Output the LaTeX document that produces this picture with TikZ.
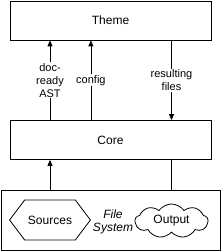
\documentclass[tikz,border=0pt]{standalone}
\usepackage{fontspec}
\setmainfont{Liberation Sans}
\usetikzlibrary{shapes.geometric, shapes.symbols, arrows.meta, positioning, calc}

\begin{document}
\begin{tikzpicture}[
    x=1pt, y=-1pt,
    block/.style={rectangle, draw, line width=0.8pt, minimum width=201pt, minimum height=39pt, font=\fontsize{12}{14}\selectfont},
    lbl/.style={fill=white, align=center, inner sep=1pt, font=\fontsize{11}{13}\selectfont},
    arrow/.style={-{Triangle[length=6pt,width=5pt]}, line width=0.8pt},
    line/.style={line width=0.8pt}
]
\useasboundingbox (0,0) rectangle (221,251);

\node[block] (theme) at (110.5,20.5) {Theme};
\node[block] (core) at (110.5,140) {Core};
\node[rectangle, draw, line width=0.8pt, minimum width=219pt, minimum height=60pt] (fs) at (110.5,220) {};

\node[signal, signal to=west and east, signal pointer angle=106, draw, line width=0.8pt, minimum width=80pt, minimum height=40pt, font=\fontsize{12}{14}\selectfont] (sources) at (50,220) {Sources};
\node[cloud, cloud puffs=9, cloud puff arc=110, aspect=2.4, draw, line width=0.8pt, minimum width=73pt, minimum height=34pt, inner sep=1pt, font=\fontsize{12}{14}\selectfont] (output) at (171.5,221) {Output};
\node[align=center, font=\fontsize{12}{13}\selectfont\itshape] (fsname) at (113,222) {File\\System};

\draw[arrow] (core.north -| sources) -- (theme.south -| sources) node[lbl, midway] {doc-\\ready\\AST};
\draw[arrow] (core.north -| sources.east) -- (theme.south -| sources.east) node[lbl, midway] {config};
\draw[arrow] (theme.south -| output) -- (core.north -| output) node[lbl, midway] {resulting\\files};
\draw[arrow] (fs.north -| sources) -- (core.south -| sources);
\draw[line] (core.south -| output) -- (fs.north -| output);

\end{tikzpicture}
\end{document}
